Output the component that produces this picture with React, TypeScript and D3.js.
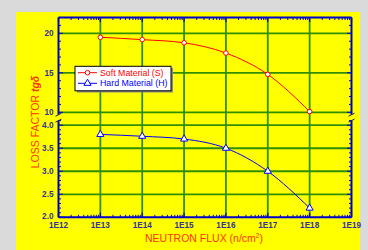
import React from "react";
import * as d3 from "d3";

const fluxes = [1e13, 1e14, 1e15, 1e16, 1e17, 1e18];
const softValues = [19.5, 19.2, 18.8, 17.5, 14.8, 10.1];
const hardValues = [3.8, 3.76, 3.7, 3.5, 3.0, 2.2];
const xTickLabels = ["1E12", "1E13", "1E14", "1E15", "1E16", "1E17", "1E18", "1E19"];
const upperTicks = [10, 15, 20];
const lowerTicks = [2.0, 2.5, 3.0, 3.5, 4.0];
const seriesNames = ["Soft Material (S)", "Hard Material (H)"];

const W = 368, H = 250;
const L = 58.5, R = 351.5, T = 17.5, B = 217.3;
const breakTop = 114.7, breakBot = 120.6;

export default function App() {
  const x = d3.scaleLog().domain([1e12, 1e19]).range([L, R]);
  const yU = d3.scaleLinear().domain([9.7, 22]).range([breakTop, T]);
  const yL = d3.scaleLinear().domain([2, 4.1]).range([B, breakBot]);

  const softLine = d3.line<number>().x((_, i) => x(fluxes[i])).y(d => yU(d)).curve(d3.curveMonotoneX);
  const hardLine = d3.line<number>().x((_, i) => x(fluxes[i])).y(d => yL(d)).curve(d3.curveMonotoneX);

  const minorX: number[] = [];
  for (let e = 12; e < 19; e++) for (let m = 2; m <= 9; m++) minorX.push(m * Math.pow(10, e));
  const majorX = d3.range(12, 20).map(e => Math.pow(10, e));

  const minorU = d3.range(10, 23);
  const minorL = d3.range(20, 42).map(v => v / 10);

  const axisC = "#0000cc";
  const gridC = "#2f8f00";
  const labC = "#333399";
  const font = "Liberation Sans, Arial, sans-serif";

  const triangle = d3.symbol().type(d3.symbolTriangle).size(22)();

  return (
    <svg width={W} height={H} style={{ position: "absolute", left: 0, top: 0 }} fontFamily={font}>
      <rect x={0} y={0} width={W} height={H} fill="#dadada" />
      <rect x={16} y={12} width={344} height={238} fill="#ffff00" />

      {/* grid */}
      {fluxes.map(f => (
        <line key={"vg" + f} x1={x(f)} x2={x(f)} y1={T} y2={B} stroke={gridC} strokeWidth={1.8} />
      ))}
      {[10, 15, 20].map(v => (
        <line key={"hu" + v} x1={L} x2={R} y1={yU(v)} y2={yU(v)} stroke={gridC} strokeWidth={1.8} />
      ))}
      {[2.5, 3.0, 3.5, 4.0].map(v => (
        <line key={"hl" + v} x1={L} x2={R} y1={yL(v)} y2={yL(v)} stroke={gridC} strokeWidth={1.8} />
      ))}

      {/* axes frame */}
      <line x1={L} x2={R} y1={T} y2={T} stroke={axisC} strokeWidth={2} />
      <line x1={L} x2={R} y1={B} y2={B} stroke={axisC} strokeWidth={2} />
      <line x1={L} x2={L} y1={T} y2={breakTop} stroke={axisC} strokeWidth={2} />
      <line x1={L} x2={L} y1={breakBot} y2={B} stroke={axisC} strokeWidth={2} />
      <line x1={R} x2={R} y1={T} y2={breakTop} stroke={axisC} strokeWidth={2} />
      <line x1={R} x2={R} y1={breakBot} y2={B} stroke={axisC} strokeWidth={2} />

      {/* break marks */}
      {[L, R].map(xx => (
        <g key={"br" + xx} stroke="#222266" strokeWidth={1}>
          <line x1={xx - 3} y1={breakTop + 1.5} x2={xx + 3} y2={breakTop - 1.5} />
          <line x1={xx - 3} y1={breakBot + 1.5} x2={xx + 3} y2={breakBot - 1.5} />
        </g>
      ))}

      {/* x ticks */}
      {minorX.map(v => (
        <g key={"mx" + v} stroke={axisC} strokeWidth={1}>
          <line x1={x(v)} x2={x(v)} y1={B} y2={B - 2.5} />
          <line x1={x(v)} x2={x(v)} y1={T} y2={T + 2.5} />
        </g>
      ))}
      {majorX.map(v => (
        <g key={"Mx" + v} stroke={axisC} strokeWidth={1.2}>
          <line x1={x(v)} x2={x(v)} y1={B} y2={B - 4.5} />
          <line x1={x(v)} x2={x(v)} y1={T} y2={T + 4.5} />
        </g>
      ))}
      {majorX.map((v, i) => (
        <text key={"xl" + v} x={x(v)} y={228} fontSize={8.2} fontWeight="bold" fill={labC} textAnchor="middle">
          {xTickLabels[i]}
        </text>
      ))}

      {/* y ticks */}
      {minorU.map(v => {
        const len = upperTicks.includes(v) ? 4.5 : 2.5;
        return (
          <g key={"mu" + v} stroke={axisC} strokeWidth={1}>
            <line x1={L} x2={L + len} y1={yU(v)} y2={yU(v)} />
            <line x1={R} x2={R - len} y1={yU(v)} y2={yU(v)} />
          </g>
        );
      })}
      {minorL.map(v => {
        const len = lowerTicks.some(t => Math.abs(t - v) < 1e-6) ? 4.5 : 2.5;
        return (
          <g key={"ml" + v} stroke={axisC} strokeWidth={1}>
            <line x1={L} x2={L + len} y1={yL(v)} y2={yL(v)} />
            <line x1={R} x2={R - len} y1={yL(v)} y2={yL(v)} />
          </g>
        );
      })}
      {upperTicks.map(v => (
        <text key={"ul" + v} x={53.5} y={yU(v)} dy="0.35em" fontSize={8.2} fontWeight="bold" fill={labC} textAnchor="end">
          {v}
        </text>
      ))}
      {lowerTicks.map(v => (
        <text key={"ll" + v} x={53.5} y={yL(v) - (v === 2 ? 0.8 : 0)} dy="0.35em" fontSize={8.2} fontWeight="bold" fill={labC} textAnchor="end">
          {v.toFixed(1)}
        </text>
      ))}

      {/* series */}
      <path d={softLine(softValues) || ""} fill="none" stroke="#ff0000" strokeWidth={1} />
      {softValues.map((v, i) => (
        <circle key={"sc" + i} cx={x(fluxes[i])} cy={yU(v)} r={2.3} fill="#ffffff" stroke="#ff0000" strokeWidth={1} />
      ))}
      <path d={hardLine(hardValues) || ""} fill="none" stroke="#0000ff" strokeWidth={1} />
      {hardValues.map((v, i) => (
        <path key={"ht" + i} d={triangle || ""} transform={`translate(${x(fluxes[i])},${yL(v)})`} fill="#ffffff" stroke="#0000ff" strokeWidth={1} />
      ))}

      {/* legend */}
      <rect x={77} y={68} width={96} height={24.5} fill="#888888" />
      <rect x={75} y={66.3} width={96} height={24.5} fill="#ffffff" stroke="#000000" strokeWidth={1} />
      <line x1={78} x2={97} y1={72.7} y2={72.7} stroke="#ff0000" strokeWidth={1} />
      <circle cx={87.5} cy={72.7} r={2.3} fill="#ffffff" stroke="#ff0000" strokeWidth={1} />
      <text x={100} y={72.7} dy="0.35em" fontSize={8.8} fill="#ff0000">{seriesNames[0]}</text>
      <line x1={78} x2={97} y1={83.3} y2={83.3} stroke="#0000ff" strokeWidth={1} />
      <path d={triangle || ""} transform="translate(87.5,83.3)" fill="#ffffff" stroke="#0000ff" strokeWidth={1} />
      <text x={100} y={83.3} dy="0.35em" fontSize={8.8} fill="#0000ff">{seriesNames[1]}</text>

      {/* axis titles */}
      <text x={204} y={241.5} fontSize={10.5} fill="#ff3300" textAnchor="middle">
        NEUTRON FLUX (n/cm<tspan fontSize={6.5} dy={-4}>2</tspan><tspan dy={4}>)</tspan>
      </text>
      <text transform="translate(38.5,122) rotate(-90)" fontSize={10.5} fill="#ff3300" textAnchor="middle">
        LOSS FACTOR  <tspan fontStyle="italic" fontWeight="bold">tgδ</tspan>
      </text>
    </svg>
  );
}
